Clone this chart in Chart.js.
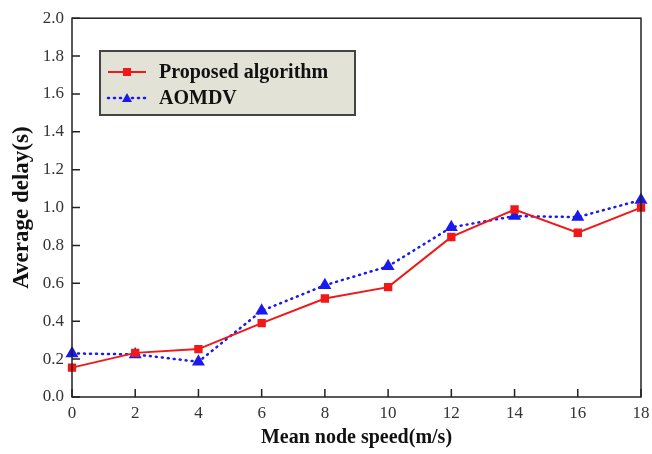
<!DOCTYPE html>
<html><head><meta charset="utf-8">
<script src="https://cdn.jsdelivr.net/npm/chart.js@4"></script>
<style>html,body{margin:0;padding:0;background:#fff}#wrap{width:652px;height:454px}</style>
</head><body><div id="wrap"><canvas id="c" width="652" height="454"></canvas></div>
<script>
const speeds = ['0','2','4','6','8','10','12','14','16','18'];
const proposed = [0.155, 0.233, 0.253, 0.39, 0.52, 0.58, 0.845, 0.99, 0.867, 1.0];
const aomdv = [0.23, 0.225, 0.186, 0.455, 0.59, 0.69, 0.896, 0.955, 0.95, 1.04];
const yMin = 0, yMax = 2.0, yStep = 0.2;
const xTitle = 'Mean node speed(m/s)';
const yTitle = 'Average delay(s)';

const serif = '"Liberation Serif", "DejaVu Serif", serif';

const frame = {
  id: 'frame',
  afterDatasetsDraw(chart) {
    const {ctx, chartArea: a, scales} = chart;
    ctx.save();
    ctx.strokeStyle = '#222';
    ctx.lineWidth = 1.5;
    ctx.strokeRect(a.left, a.top, a.right - a.left, a.bottom - a.top);
    ctx.beginPath();
    scales.x.ticks.forEach((t, i) => {
      const px = scales.x.getPixelForTick(i);
      ctx.moveTo(px, a.bottom); ctx.lineTo(px, a.bottom - 8);
    });
    scales.y.ticks.forEach((t, i) => {
      const py = scales.y.getPixelForTick(i);
      ctx.moveTo(a.left, py); ctx.lineTo(a.left + 8, py);
    });
    ctx.stroke();
    // legend
    const bx = 100, by = 51, bw = 255, bh = 64;
    ctx.fillStyle = '#e2e2d6';
    ctx.fillRect(bx, by, bw, bh);
    ctx.strokeStyle = '#444';
    ctx.lineWidth = 2;
    ctx.strokeRect(bx, by, bw, bh);
    ctx.font = 'bold 20px ' + serif;
    ctx.fillStyle = '#111';
    ctx.textBaseline = 'middle';
    const ds = chart.data.datasets;
    const rows = [by + 21, by + 47];
    ds.forEach((d, i) => {
      const y = rows[i];
      ctx.beginPath();
      ctx.strokeStyle = d.borderColor;
      ctx.lineWidth = d.borderWidth;
      ctx.setLineDash(d.borderDash || []);
      ctx.lineCap = d.borderCapStyle || 'butt';
      ctx.moveTo(108, y); ctx.lineTo(146, y);
      ctx.stroke();
      ctx.setLineDash([]);
      ctx.fillStyle = d.pointBackgroundColor;
      if (d.pointStyle === 'rect') {
        ctx.fillRect(123, y - 4, 8, 8);
      } else {
        ctx.beginPath();
        ctx.moveTo(127, y - 5); ctx.lineTo(132, y + 4); ctx.lineTo(122, y + 4); ctx.closePath(); ctx.fill();
      }
      ctx.fillStyle = '#111';
      ctx.fillText(d.label, 159, y + 1);
    });
    ctx.restore();
  }
};

new Chart(document.getElementById('c'), {
  type: 'line',
  data: {
    labels: speeds,
    datasets: [
      {label: 'Proposed algorithm', data: proposed, borderColor: '#f01818', backgroundColor: '#f01818',
       pointBackgroundColor: '#f01818', pointBorderColor: '#f01818', borderWidth: 2, pointStyle: 'rect', pointRadius: 4.5, tension: 0},
      {label: 'AOMDV', data: aomdv, borderColor: '#1a1aee', backgroundColor: '#1a1aee',
       pointBackgroundColor: '#1a1aee', pointBorderColor: '#1a1aee', borderWidth: 2.5, borderDash: [1, 5], borderCapStyle: 'round',
       pointStyle: 'triangle', pointRadius: 5, tension: 0}
    ]
  },
  options: {
    responsive: false, animation: false,
    layout: {padding: {top: 17, right: 11, left: 0, bottom: 0}},
    plugins: {legend: {display: false}, tooltip: {enabled: false}},
    scales: {
      x: {
        type: 'category', offset: false,
        grid: {display: false, drawTicks: false}, border: {display: false},
        ticks: {color: '#333', font: {family: serif, size: 17}, padding: 6, maxRotation: 0},
        title: {display: true, text: xTitle, color: '#111', font: {family: serif, size: 20, weight: 'bold'}, padding: {top: 0}},
        afterFit(s) { s.height = 57; s.paddingRight = 0; s.paddingLeft = 0; }
      },
      y: {
        min: yMin, max: yMax,
        grid: {display: false, drawTicks: false}, border: {display: false},
        ticks: {stepSize: yStep, color: '#333', font: {family: serif, size: 17}, padding: 8,
                callback: v => Number(v).toFixed(1)},
        title: {display: true, text: yTitle, color: '#111', font: {family: serif, size: 23, weight: 'bold'}, padding: {top: 8, bottom: 4}},
        afterFit(s) { s.width = 72; }
      }
    }
  },
  plugins: [frame]
});
</script>
</body></html>
